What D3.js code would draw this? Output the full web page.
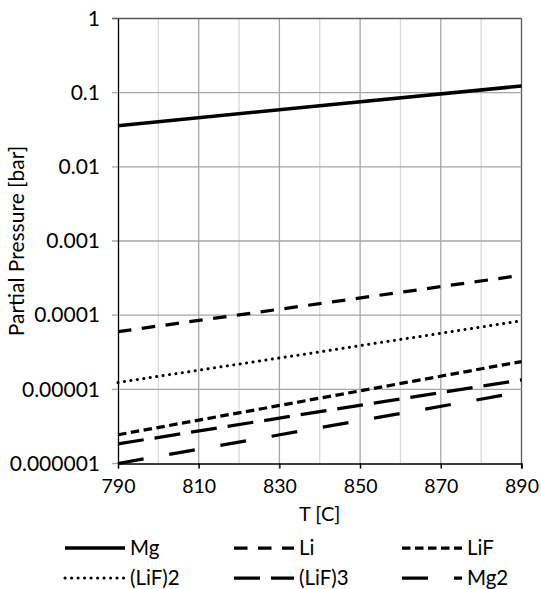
<!DOCTYPE html>
<html>
<head>
<meta charset="utf-8">
<script src="https://cdn.jsdelivr.net/npm/d3@7"></script>
<style>
  html, body { margin: 0; padding: 0; background: #fff; }
  svg { display: block; }
  text { font-family: "Lato", "Liberation Sans", sans-serif; fill: #000; }
</style>
</head>
<body>
<svg id="chart" width="541" height="589"></svg>
<script>
// Temperatures (°C) at which partial pressures were sampled
const temps = [790, 840, 890];

// Partial pressures (bar) of each vapour species
const seriesNames = ["Mg", "Li", "LiF", "(LiF)2", "(LiF)3", "Mg2"];
const mgP     = [0.0359, 0.0664, 0.123];
const liP     = [6.0e-5, 1.43e-4, 3.45e-4];
const lifP    = [2.44e-6, 7.6e-6, 2.37e-5];
const lif2P   = [1.24e-5, 3.2e-5, 8.4e-5];
const lif3P   = [1.84e-6, 5.0e-6, 1.34e-5];
const mg2P    = [1.0e-6, 3.04e-6, 9.2e-6];

// Axis ticks
const xTicks = [790, 810, 830, 850, 870, 890];
const xMinor = [800, 820, 840, 860, 880];
const yTicks = [1, 0.1, 0.01, 0.001, 0.0001, 0.00001, 0.000001];
const yTickLabels = ["1", "0.1", "0.01", "0.001", "0.0001", "0.00001", "0.000001"];

// Line styles per series
const styles = {
  "Mg":     { width: 3.5,  dash: null,        cap: "butt" },
  "Li":     { width: 3.25, dash: "13.5 10.5", cap: "butt" },
  "LiF":    { width: 3.25, dash: "8.5 4.5",   cap: "butt" },
  "(LiF)2": { width: 3,    dash: "0.1 6.4",   cap: "round" },
  "(LiF)3": { width: 3.25, dash: "26 11",     cap: "butt" },
  "Mg2":    { width: 3.25, dash: "26 26",     cap: "butt" }
};

const values = [mgP, liP, lifP, lif2P, lif3P, mg2P];
const series = seriesNames.map((name, i) => ({
  name,
  points: temps.map((t, j) => ({ t, p: values[i][j] }))
}));

const svg = d3.select("#chart");
const m = { left: 118, right: 19.5, top: 18.5, bottom: 125.5 };
const W = 541, H = 589;
const x = d3.scaleLinear().domain([790, 890]).range([m.left, W - m.right]);
const y = d3.scaleLog().domain([1e-6, 1]).range([H - m.bottom, m.top]);

// Minor vertical gridlines
svg.append("g").selectAll("line").data(xMinor).join("line")
  .attr("x1", d => x(d)).attr("x2", d => x(d))
  .attr("y1", y(1)).attr("y2", y(1e-6))
  .attr("stroke", "#d9d9d9").attr("stroke-width", 1.3);

// Major vertical gridlines (with short tick below the axis)
svg.append("g").selectAll("line").data(xTicks.slice(1)).join("line")
  .attr("x1", d => x(d)).attr("x2", d => x(d))
  .attr("y1", y(1)).attr("y2", y(1e-6) + 5)
  .attr("stroke", d => d === 890 ? "#595959" : "#a6a6a6").attr("stroke-width", 1.3);

// Horizontal gridlines (with short tick left of the axis)
svg.append("g").selectAll("line").data(yTicks).join("line")
  .attr("x1", x(790) - 6).attr("x2", d => d === 1e-6 ? x(790) : x(890))
  .attr("y1", d => y(d)).attr("y2", d => y(d))
  .attr("stroke", d => d === 1 ? "#595959" : "#a6a6a6").attr("stroke-width", 1.3);

// Axes
const xAxis = d3.axisBottom(x).tickValues(xTicks).tickSize(5).tickPadding(11)
  .tickFormat(d3.format("d"));
svg.append("g").attr("transform", `translate(0,${y(1e-6)})`).call(xAxis)
  .call(g => g.select(".domain").attr("stroke", "#000").attr("stroke-width", 1.3))
  .call(g => g.selectAll(".tick line").attr("stroke", "#000").attr("stroke-width", 1.3))
  .call(g => g.selectAll("text").attr("font-size", 19.5).attr("font-family", "Lato").attr("fill", "#000"));

const yAxis = d3.axisLeft(y).tickValues(yTicks).tickSize(0).tickPadding(18)
  .tickFormat((d, i) => yTickLabels[i]);
svg.append("g").attr("transform", `translate(${x(790)},0)`).call(yAxis)
  .call(g => g.select(".domain").attr("stroke", "#000").attr("stroke-width", 1.3))
  .call(g => g.selectAll("text").attr("font-size", 21).attr("font-family", "Lato").attr("fill", "#000"));

// Axis titles
svg.append("text").attr("x", x(840)).attr("y", 521)
  .attr("text-anchor", "middle").attr("font-size", 20).text("T [C]");
svg.append("text")
  .attr("transform", `translate(24,${(y(1) + y(1e-6)) / 2}) rotate(-90)`)
  .attr("text-anchor", "middle").attr("font-size", 21).text("Partial Pressure [bar]");

// Series lines
const line = d3.line().x(d => x(d.t)).y(d => y(d.p));
svg.append("g").selectAll("path").data(series).join("path")
  .attr("d", d => line(d.points))
  .attr("fill", "none").attr("stroke", "#000")
  .attr("stroke-width", d => styles[d.name].width)
  .attr("stroke-dasharray", d => styles[d.name].dash)
  .attr("stroke-linecap", d => styles[d.name].cap);

// Legend: three columns, two rows
const colX = [65, 234, 402];
const rowY = [548, 578];
const legend = svg.append("g").selectAll("g").data(series).join("g")
  .attr("transform", (d, i) => `translate(${colX[i % 3]},${rowY[Math.floor(i / 3)]})`);
legend.append("line").attr("x1", 0).attr("x2", 60).attr("y1", 0).attr("y2", 0)
  .attr("stroke", "#000")
  .attr("stroke-width", d => styles[d.name].width)
  .attr("stroke-dasharray", d => styles[d.name].dash)
  .attr("stroke-linecap", d => styles[d.name].cap);
legend.append("text").attr("x", 65).attr("y", 0).attr("dy", "0.35em")
  .attr("font-size", 20.5).text(d => d.name);
</script>
</body>
</html>
